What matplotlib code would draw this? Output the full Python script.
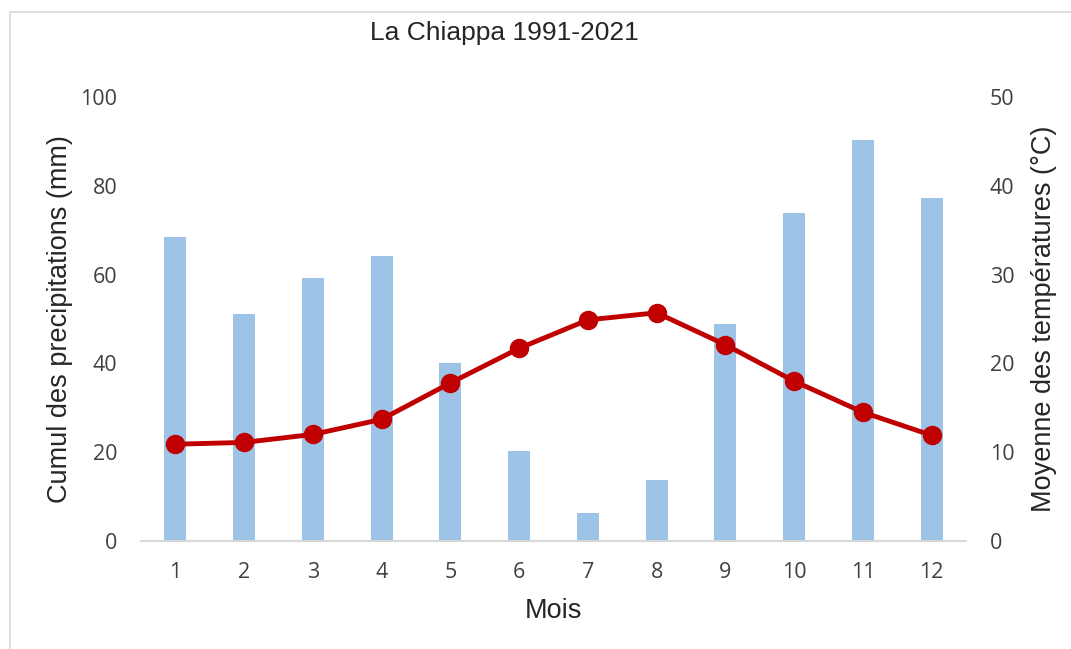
import matplotlib
matplotlib.use('Agg')
import matplotlib.pyplot as plt
from matplotlib.patches import Rectangle

mois = [1, 2, 3, 4, 5, 6, 7, 8, 9, 10, 11, 12]
precipitations = [68.5, 51.1, 59.2, 64.2, 40.1, 20.3, 6.3, 13.7, 48.9, 73.9, 90.3, 77.3]
temperatures = [10.9, 11.1, 12.0, 13.7, 17.8, 21.7, 24.9, 25.7, 22.1, 18.0, 14.5, 11.9]
left_ticks = [0, 20, 40, 60, 80, 100]
right_ticks = [0, 10, 20, 30, 40, 50]

W, H = 1071, 649
fig = plt.figure(figsize=(W / 100, H / 100), dpi=100)

# light chart frame
fig.patches.append(Rectangle((10 / W, -0.1), 1.2, 1.1 - 12 / H, transform=fig.transFigure,
                             fill=False, edgecolor='#D9D9D9', linewidth=1.2))

ax = fig.add_axes([141 / W, (H - 541) / H, (966 - 141) / W, (541 - 97) / H])
ax.bar(mois, precipitations, width=0.32, color='#9DC3E6', zorder=2)
ax.set_xlim(0.5, 12.5)
ax.set_ylim(0, 100)
ax.set_xticks(mois)
ax.set_yticks(left_ticks)
for s in ['top', 'left', 'right']:
    ax.spines[s].set_visible(False)
ax.spines['bottom'].set_color('#D9D9D9')
ax.spines['bottom'].set_linewidth(1.5)
ax.spines['bottom'].set_zorder(3)
ax.tick_params(length=0, labelsize=15.5, labelcolor='#404040')
ax.tick_params(axis='x', pad=15)
ax.tick_params(axis='y', pad=17)
for lbl in ax.get_xticklabels() + ax.get_yticklabels():
    lbl.set_fontfamily('Open Sans')
ax.set_ylabel('Cumul des precipitations (mm)', fontsize=19.5, family='Liberation Sans',
              color='#262626', labelpad=5)
ax.set_xlabel('Mois', fontsize=19.5, family='Liberation Sans', color='#262626', labelpad=11)

ax2 = ax.twinx()
ax2.plot(mois, temperatures, color='#C00000', linewidth=3.5, marker='o', markersize=13, zorder=4)
ax2.set_ylim(0, 50)
ax2.set_yticks(right_ticks)
for s in ['top', 'left', 'right', 'bottom']:
    ax2.spines[s].set_visible(False)
ax2.tick_params(length=0, labelsize=15.5, labelcolor='#404040', pad=17)
for lbl in ax2.get_yticklabels():
    lbl.set_fontfamily('Open Sans')
ax2.set_ylabel('Moyenne des températures (°C)', fontsize=19.5, family='Liberation Sans',
               color='#262626', labelpad=12)

fig.text(504 / W, (H - 33) / H, 'La Chiappa 1991-2021', ha='center', va='center',
         fontsize=19, family='Liberation Sans', color='#262626')

fig.savefig('out.png', dpi=100)
